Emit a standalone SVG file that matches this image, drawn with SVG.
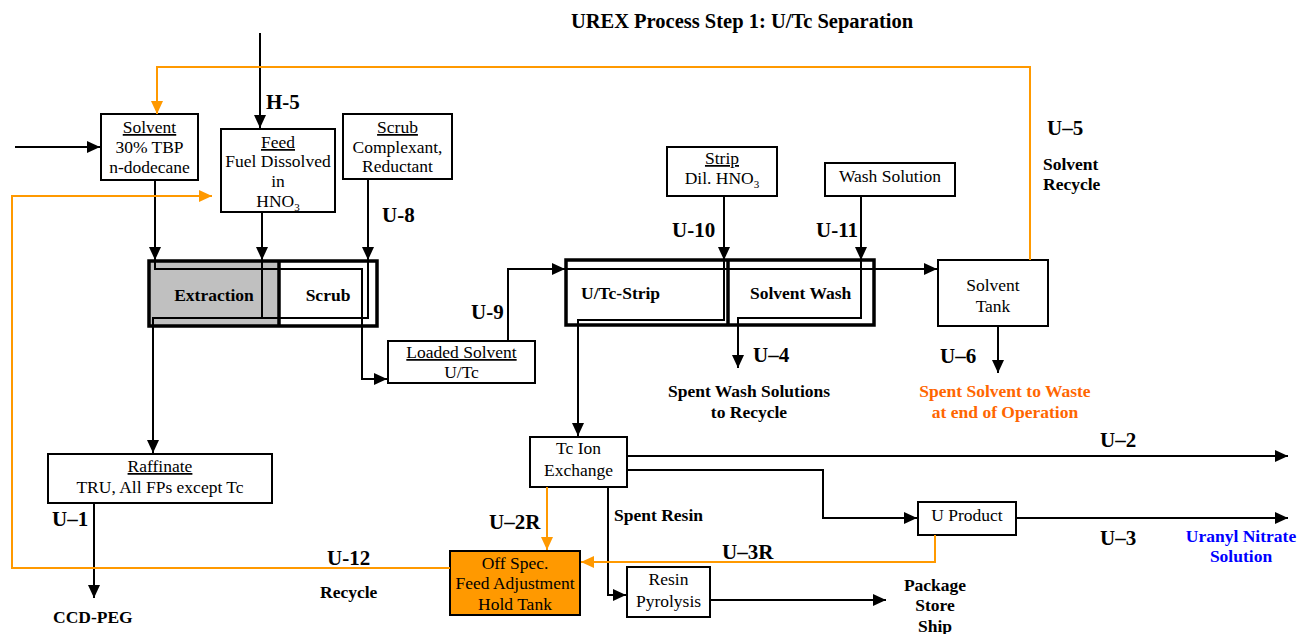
<svg xmlns="http://www.w3.org/2000/svg" width="1299" height="634" viewBox="0 0 1299 634">
  <style>
    text { font-family: "Liberation Serif", "Times New Roman", serif; fill: #000; }
    .box { fill: #fff; stroke: #000; stroke-width: 2; }
    .blk { fill: none; stroke: #000; stroke-width: 3.5; }
    .t { font-size: 17.5px; text-anchor: middle; }
    .u { text-decoration: underline; }
    .lbl { font-size: 21px; font-weight: bold; }
    .sm { font-size: 17.5px; font-weight: bold; }
    .mid { text-anchor: middle; }
    .ln { fill: none; stroke: #000; stroke-width: 2; }
    .or { fill: none; stroke: #FF9900; stroke-width: 2; }
  </style>
  <defs>
    <marker id="ab" markerUnits="userSpaceOnUse" markerWidth="14" markerHeight="12" refX="13" refY="6" orient="auto">
      <path d="M0,0 L13,6 L0,12 z" fill="#000"/>
    </marker>
    <marker id="ao" markerUnits="userSpaceOnUse" markerWidth="14" markerHeight="12" refX="13" refY="6" orient="auto">
      <path d="M0,0 L13,6 L0,12 z" fill="#FF9900"/>
    </marker>
  </defs>

  <rect width="1299" height="634" fill="#fff"/>

  <text x="742" y="28" font-size="20.5" font-weight="bold" text-anchor="middle">UREX Process Step 1: U/Tc Separation</text>

  <!-- process blocks (drawn first so flow lines pass over them) -->
  <g id="extraction-scrub">
    <rect x="149" y="261" width="130" height="65" fill="#C0C0C0"/>
    <rect x="149" y="261" width="228" height="65" class="blk"/>
    <line x1="279" y1="261" x2="279" y2="326" stroke="#000" stroke-width="3.5"/>
    <text x="214" y="301" class="sm mid">Extraction</text>
    <text x="328" y="301" class="sm mid">Scrub</text>
  </g>
  <g id="strip-wash">
    <rect x="566" y="260" width="308" height="65" class="blk"/>
    <line x1="728" y1="260" x2="728" y2="325" stroke="#000" stroke-width="3.5"/>
    <text x="581" y="299" class="sm">U/Tc-Strip</text>
    <text x="750" y="299" class="sm">Solvent Wash</text>
  </g>

  <!-- nodes -->
  <g id="solvent">
    <rect x="101" y="114" width="97" height="66" class="box"/>
    <text x="149.5" y="133" class="t"><tspan class="u">Solvent</tspan></text>
    <text x="149.5" y="153" class="t">30% TBP</text>
    <text x="149.5" y="173" class="t">n-dodecane</text>
  </g>
  <g id="feed">
    <rect x="221" y="129" width="114" height="83" class="box"/>
    <text x="278" y="148" class="t"><tspan class="u">Feed</tspan></text>
    <text x="278" y="167" class="t">Fuel Dissolved</text>
    <text x="278" y="187" class="t">in</text>
    <text x="278" y="207" class="t">HNO<tspan font-size="11" dy="4">3</tspan></text>
  </g>
  <g id="scrub">
    <rect x="343" y="114" width="109" height="65" class="box"/>
    <text x="397.5" y="133" class="t"><tspan class="u">Scrub</tspan></text>
    <text x="397.5" y="153" class="t">Complexant,</text>
    <text x="397.5" y="172" class="t">Reductant</text>
  </g>
  <g id="loaded-solvent">
    <rect x="388" y="341" width="147" height="42" class="box"/>
    <text x="461.5" y="358" class="t"><tspan class="u">Loaded Solvent</tspan></text>
    <text x="461.5" y="378" class="t">U/Tc</text>
  </g>
  <g id="raffinate">
    <rect x="48" y="454" width="224" height="49" class="box"/>
    <text x="160" y="472" class="t"><tspan class="u">Raffinate</tspan></text>
    <text x="160" y="493" class="t">TRU, All FPs except Tc</text>
  </g>
  <g id="strip">
    <rect x="667" y="147" width="110" height="49" class="box"/>
    <text x="722" y="164" class="t"><tspan class="u">Strip</tspan></text>
    <text x="722" y="184" class="t">Dil. HNO<tspan font-size="11" dy="4">3</tspan></text>
  </g>
  <g id="wash-solution">
    <rect x="825" y="163" width="130" height="33" class="box"/>
    <text x="890" y="182" class="t">Wash Solution</text>
  </g>
  <g id="solvent-tank">
    <rect x="938" y="260" width="110" height="66" class="box"/>
    <text x="993" y="291" class="t">Solvent</text>
    <text x="993" y="312" class="t">Tank</text>
  </g>
  <g id="tc-ion-exchange">
    <rect x="530" y="437" width="97" height="50" class="box"/>
    <text x="578.5" y="454" class="t">Tc Ion</text>
    <text x="578.5" y="476" class="t">Exchange</text>
  </g>
  <g id="u-product">
    <rect x="918" y="502" width="98" height="33" class="box"/>
    <text x="967" y="521" class="t">U Product</text>
  </g>
  <g id="off-spec">
    <rect x="450" y="551" width="130" height="64" fill="#FF9900" stroke="#000" stroke-width="2"/>
    <text x="515" y="569" class="t">Off Spec.</text>
    <text x="515" y="589" class="t">Feed Adjustment</text>
    <text x="515" y="610" class="t">Hold Tank</text>
  </g>
  <g id="resin-pyrolysis">
    <rect x="627" y="567" width="83" height="50" class="box"/>
    <text x="668.5" y="585" class="t">Resin</text>
    <text x="668.5" y="607" class="t">Pyrolysis</text>
  </g>

  <!-- connectors -->
  <g id="connectors">
    <line x1="15" y1="147" x2="100" y2="147" class="ln" marker-end="url(#ab)"/>
    <line x1="260" y1="33" x2="260" y2="128" class="ln" marker-end="url(#ab)"/>
    <line x1="155" y1="180" x2="155" y2="260" class="ln" marker-end="url(#ab)"/>
    <polyline points="155,260 155,269 362,269 362,379 387,379" class="ln" marker-end="url(#ab)"/>
    <line x1="262" y1="212" x2="262" y2="260" class="ln" marker-end="url(#ab)"/>
    <line x1="262" y1="260" x2="262" y2="318" class="ln"/>
    <line x1="368" y1="179" x2="368" y2="260" class="ln" marker-end="url(#ab)"/>
    <polyline points="368,260 368,318 153,318 153,453" class="ln" marker-end="url(#ab)"/>
    <line x1="94" y1="503" x2="94" y2="598" class="ln" marker-end="url(#ab)"/>

    <polyline points="508,341 508,269 565,269" class="ln" marker-end="url(#ab)"/>
    <line x1="565" y1="269" x2="937" y2="269" class="ln" marker-end="url(#ab)"/>
    <line x1="724" y1="196" x2="724" y2="260" class="ln" marker-end="url(#ab)"/>
    <polyline points="724,260 724,320 578,320 578,436" class="ln" marker-end="url(#ab)"/>
    <line x1="861" y1="196" x2="861" y2="260" class="ln" marker-end="url(#ab)"/>
    <polyline points="861,260 861,318 738,318 738,368" class="ln" marker-end="url(#ab)"/>
    <line x1="998" y1="326" x2="998" y2="373" class="ln" marker-end="url(#ab)"/>

    <line x1="627" y1="456" x2="1288" y2="456" class="ln" marker-end="url(#ab)"/>
    <polyline points="627,470 823,470 823,518 917,518" class="ln" marker-end="url(#ab)"/>
    <line x1="1016" y1="518" x2="1288" y2="518" class="ln" marker-end="url(#ab)"/>
    <polyline points="608,487 608,595 626,595" class="ln" marker-end="url(#ab)"/>
    <line x1="710" y1="600" x2="886" y2="600" class="ln" marker-end="url(#ab)"/>

    <polyline points="1030,260 1030,67 157,67 157,114" class="or" marker-end="url(#ao)"/>
    <polyline points="450,568 12,568 12,196 212,196" class="or" marker-end="url(#ao)"/>
    <line x1="547" y1="487" x2="547" y2="550" class="or" marker-end="url(#ao)"/>
    <polyline points="935,535 935,562 581,562" class="or" marker-end="url(#ao)"/>
  </g>

  <!-- stream labels -->
  <g id="labels">
    <text x="266" y="109" class="lbl">H-5</text>
    <text x="382" y="222" class="lbl">U-8</text>
    <text x="471" y="319" class="lbl">U-9</text>
    <text x="672" y="237" class="lbl">U-10</text>
    <text x="816" y="237" class="lbl">U-11</text>
    <text x="753" y="362" class="lbl">U–4</text>
    <text x="749" y="397" class="sm mid">Spent Wash Solutions</text>
    <text x="749" y="418" class="sm mid">to Recycle</text>
    <text x="1047" y="135" class="lbl">U–5</text>
    <text x="1043" y="170" class="sm">Solvent</text>
    <text x="1043" y="190" class="sm">Recycle</text>
    <text x="940" y="363" class="lbl">U–6</text>
    <text x="1005" y="397" class="sm mid" style="fill:#FF6600">Spent Solvent to Waste</text>
    <text x="1005" y="418" class="sm mid" style="fill:#FF6600">at end of Operation</text>
    <text x="1100" y="447" class="lbl">U–2</text>
    <text x="1100" y="545" class="lbl">U–3</text>
    <text x="1241" y="542" class="sm mid" style="fill:#0000FF">Uranyl Nitrate</text>
    <text x="1241" y="562" class="sm mid" style="fill:#0000FF">Solution</text>
    <text x="722" y="559" class="lbl">U–3R</text>
    <text x="489" y="529" class="lbl">U–2R</text>
    <text x="614" y="521" class="sm">Spent Resin</text>
    <text x="935" y="591" class="sm mid">Package</text>
    <text x="935" y="611" class="sm mid">Store</text>
    <text x="935" y="632" class="sm mid">Ship</text>
    <text x="52" y="526" class="lbl">U–1</text>
    <text x="53" y="623" class="sm">CCD-PEG</text>
    <text x="327" y="565" class="lbl">U-12</text>
    <text x="320" y="598" class="sm">Recycle</text>
  </g>
</svg>
